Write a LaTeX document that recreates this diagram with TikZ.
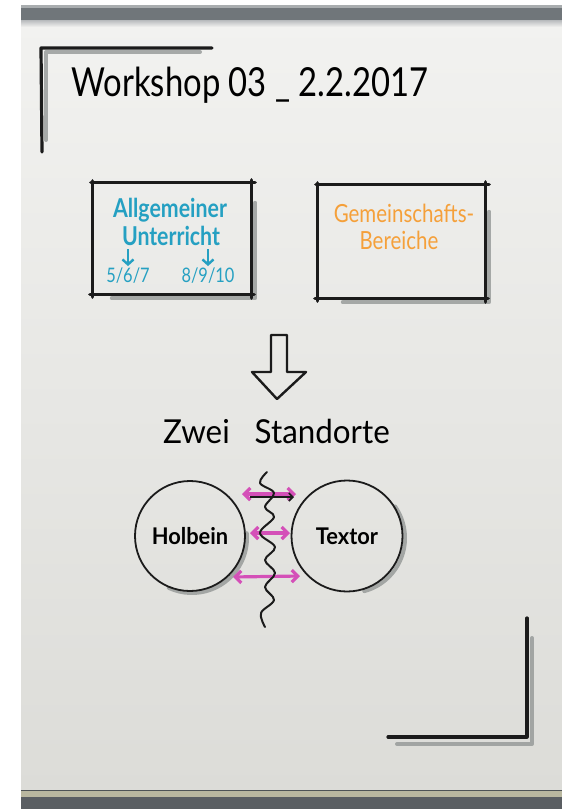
\documentclass[tikz,border=0pt]{standalone}
\usepackage{fontspec}
\setmainfont{Lato}
\newfontfamily\hand[FakeStretch=0.82]{Lato}
\newfontfamily\handwide[FakeStretch=0.95]{Lato}
\usetikzlibrary{arrows.meta, positioning, calc}

\definecolor{paperlight}{HTML}{F2F2F0}
\definecolor{paperdark}{HTML}{DCDCD8}
\definecolor{railgrey}{HTML}{70767A}
\definecolor{railbeige}{HTML}{B9B79F}
\definecolor{inkblack}{HTML}{1B1B1B}
\definecolor{shadowgrey}{HTML}{8E9291}
\definecolor{penteal}{HTML}{25A0C2}
\definecolor{penorange}{HTML}{F5A03A}
\definecolor{penpink}{HTML}{D450B8}

\begin{document}
\begin{tikzpicture}[x=1pt, y=-1pt,
  ink/.style={draw=inkblack, line width=3.2pt, line cap=round, line join=round},
  shadowline/.style={draw=shadowgrey, line width=4pt, line cap=round, line join=round, opacity=0.75},
  board/.style={rectangle, inner sep=0},
  station/.style={circle, draw=inkblack, line width=1.8pt, inner sep=0, font=\handwide\bfseries\fontsize{23}{23}\selectfont},
  tealtext/.style={text=penteal, inner sep=0, anchor=base, font=\hand\bfseries\fontsize{26}{26}\selectfont},
  orangetext/.style={text=penorange, inner sep=0, anchor=base, font=\hand\fontsize{25}{25}\selectfont},
  pinkarrow/.style={draw=penpink, line width=3.2pt, {Straight Barb[length=6pt, width=12pt]}-{Straight Barb[length=6pt, width=12pt]}},
  tealarrow/.style={draw=penteal, line width=2.4pt, -{Straight Barb[length=5pt, width=11pt]}}]

\useasboundingbox (0,0) rectangle (562,809);
\fill[white] (0,0) rectangle (562,809);
\shade[top color=paperlight, bottom color=paperdark] (21,20) rectangle (562,792);
\fill[railgrey] (21,5) rectangle (562,20);
\fill[railgrey!60] (21,5) rectangle (562,8);
\shade[top color=railgrey!50, bottom color=paperlight] (21,20) rectangle (562,27);
\fill[railbeige] (21,790) rectangle (562,797);
\fill[railgrey!80!black] (21,797) rectangle (562,809);
\draw[railgrey!70!black, line width=1pt] (21,790) -- (562,790);

\draw[shadowline] (200,52) -- (46,52) -- (46,140);
\draw[ink] (212,48) -- (41,48) -- (42,152);
\draw[shadowline] (532,638) -- (532,744) -- (397,744);
\draw[ink] (527,618) -- (527,737) -- (388,737);

\node[inner sep=0, anchor=base, font=\hand\fontsize{40}{40}\selectfont] (title) at (250,96) {Workshop 03 \_ 2.2.2017};

\node[board, minimum width=158, minimum height=111] (allg) at (172,238.5) {};
\node[board, minimum width=167, minimum height=113] (gemein) at (401.5,241.5) {};
\draw[shadowline] ($(allg.north east)+(4,20)$) -- ($(allg.south east)+(4,4)$) -- ($(allg.south west)+(19,4)$);
\draw[shadowline] ($(gemein.north east)+(4,27)$) -- ($(gemein.south east)+(4,4)$) -- ($(gemein.south west)+(25,4)$);
\foreach \b in {allg, gemein} {
  \draw[ink] ($(\b.north west)+(-2,0)$) -- ($(\b.north east)+(4,0)$);
  \draw[ink] ($(\b.north east)+(0,-3)$) -- ($(\b.south east)+(0,4)$);
  \draw[ink] ($(\b.south east)+(3,0)$) -- ($(\b.south west)+(-3,0)$);
  \draw[ink] ($(\b.south west)+(0,3)$) -- ($(\b.north west)+(0,-2)$);
}

\node[tealtext] (allgA) at (170,217) {Allgemeiner};
\node[tealtext] (allgB) at (171,245) {Unterricht};
\node[tealtext, font=\hand\fontsize{20}{20}\selectfont] (klA) at (128,282) {5/6/7};
\node[tealtext, font=\hand\fontsize{20}{20}\selectfont] (klB) at (208,282) {8/9/10};
\draw[tealarrow, shorten <=4pt, shorten >=1pt] (klA.north |- allgB.south) -- (klA.north);
\draw[tealarrow, shorten <=4pt, shorten >=1pt] (klB.north |- allgB.south) -- (klB.north);

\node[orangetext] (gemA) at (404,222) {Gemeinschafts-};
\node[orangetext] (gemB) at (399,249) {Bereiche};

\draw[ink, line width=2.4pt] (271,335) -- (271,372) -- (252,372) -- (277,399) -- (306,372) -- (287,372) -- (287,335) -- cycle;

\node[inner sep=0, anchor=base, font=\handwide\fontsize{33}{33}\selectfont] (standorte) at (276.5,443) {Zwei\hspace{25pt}Standorte};

\coordinate (holbeinC) at (190,536);
\coordinate (textorC) at (347,536);
\draw[shadowline] ($(holbeinC)+(2,2)$) ++(115:55) arc[start angle=115, end angle=-5, radius=55];
\draw[shadowline] ($(textorC)+(3,2)$) ++(75:55) arc[start angle=75, end angle=-35, radius=55];
\node[station, minimum size=110] (holbein) at (holbeinC) {Holbein};
\node[station, minimum size=111] (textor) at (textorC) {Textor};

\coordinate (topL) at (242,494);
\coordinate (topR) at (296,494);
\coordinate (midL) at (250,533);
\coordinate (midR) at (290,533);
\coordinate (lowL) at (233,577);
\coordinate (lowR) at (300,576);
\coordinate (crossL) at (250,497);
\coordinate (crossR) at (294,497);
\draw[pinkarrow] (topL) -- (topR);
\draw[pinkarrow] (midL) -- (midR);
\draw[pinkarrow] (lowL) -- (lowR);
\draw[draw=inkblack, line width=1.6pt, -{Straight Barb[length=4pt, width=8pt]}] (crossL) -- (crossR);

\draw[ink, line width=2pt] plot[smooth, tension=0.6] coordinates {(267,472) (260,483) (274,493) (265,507) (274,517) (260,533) (275,547) (265,560) (275,573) (265,587) (274,600) (261,613) (265,627)};

\end{tikzpicture}
\end{document}
